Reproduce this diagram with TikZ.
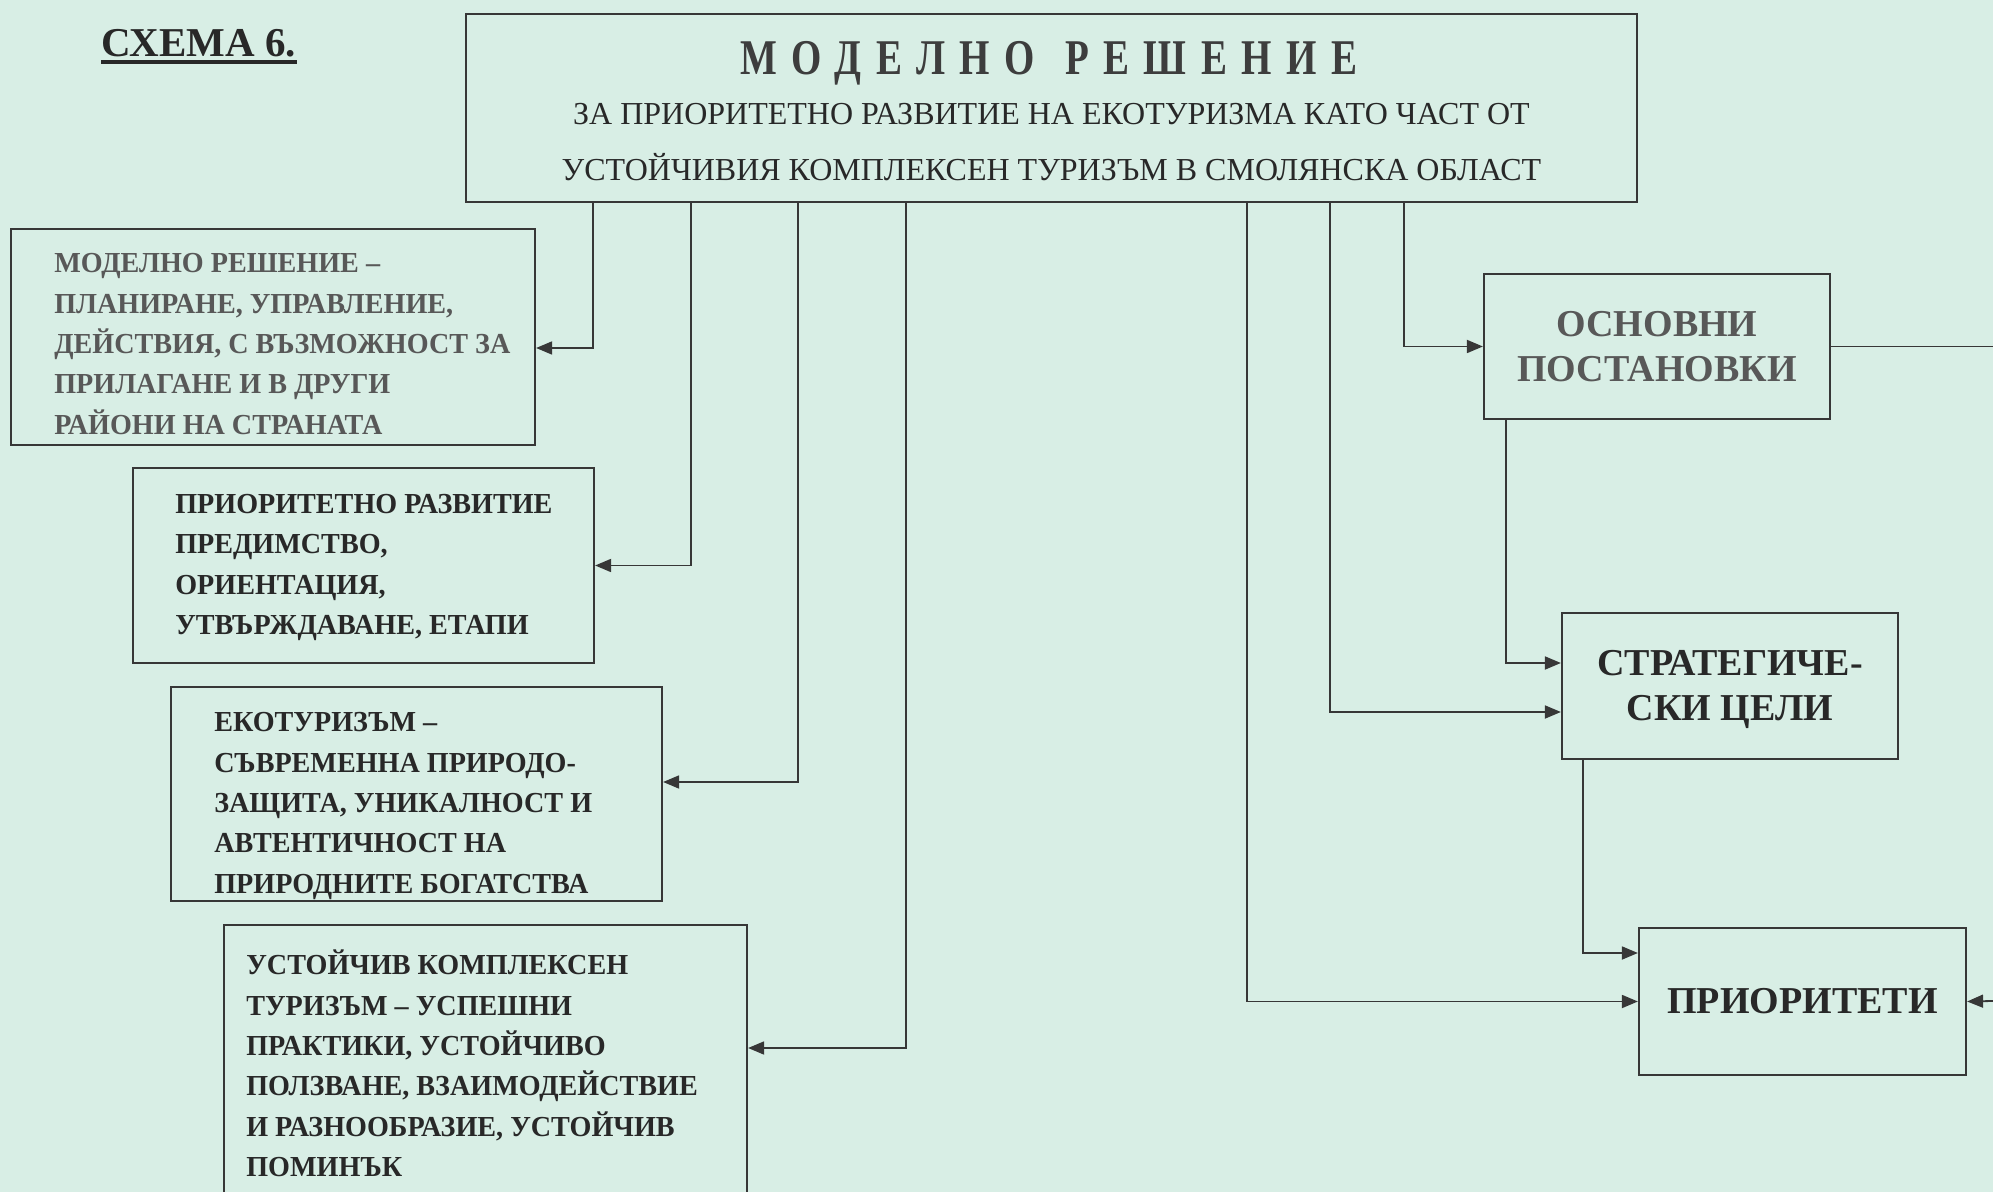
\documentclass[tikz,border=0pt]{standalone}
\usepackage{fontspec}
\setmainfont{Liberation Serif}
\newfontfamily\narrowfont[FakeStretch=0.97]{Liberation Serif}
\newfontfamily\titlefont[FakeStretch=0.78, LetterSpace=29]{Liberation Serif}
\usetikzlibrary{arrows.meta, positioning}
\definecolor{bgmint}{RGB}{216,238,229}
\definecolor{ink}{RGB}{40,40,40}
\definecolor{inkgray}{RGB}{88,88,88}
\definecolor{linegray}{RGB}{55,55,55}
\tikzset{%
	frame/.style={draw=linegray, line width=1.1pt, rectangle, inner sep=0pt},
	boxtext/.style={align=left, inner sep=0pt, text=ink,%
		font=\narrowfont\bfseries\fontsize{14.5}{20.2}\selectfont},
	bigbox/.style={frame, align=center, text=ink,%
		font=\bfseries\fontsize{19}{22.5}\selectfont},
	connector/.style={draw=linegray, line width=0.9pt},
	sel/.style={connector, -{Triangle[length=8pt, width=6.5pt]}}
}

\begin{document}
\begin{tikzpicture}[x=0.5pt, y=-0.5pt]
	\fill[bgmint] (0,0) rectangle (1993,1192);
	\useasboundingbox (0,0) rectangle (1993,1192);

	\node[anchor=base west, inner sep=0pt, text=ink, font=\bfseries\fontsize{20.5}{24}\selectfont] (schema) at (101,57) {СХЕМА 6.};
	\draw [ink, line width=2pt] ([yshift=-2.5pt]schema.base west) -- ([yshift=-2.5pt]schema.base east);

	% head box
	\node[frame, minimum width=585.5pt, minimum height=94pt] (main) at (1051.5,108) {};
	\node[anchor=base, text=ink!90, font=\titlefont\bfseries\fontsize{25}{28}\selectfont] (title) at (1049,75) {МОДЕЛНО\hspace{3pt} РЕШЕНИЕ};
	\node[anchor=base, text=ink, font=\fontsize{16}{18}\selectfont] (sub1) at (1051.5,125) {ЗА ПРИОРИТЕТНО РАЗВИТИЕ НА ЕКОТУРИЗМА КАТО ЧАСТ ОТ};
	\node[anchor=base, text=ink, font=\fontsize{16}{18}\selectfont] (sub2) at (1051.5,181) {УСТОЙЧИВИЯ КОМПЛЕКСЕН ТУРИЗЪМ В СМОЛЯНСКА ОБЛАСТ};

	% left column
	\node[frame, minimum width=262pt, minimum height=108pt] (boxA) at (273,337) {};
	\node[boxtext, text=inkgray, right=22pt of boxA.west, yshift=-3.5pt] (txtA) {МОДЕЛНО РЕШЕНИЕ –\\ПЛАНИРАНЕ, УПРАВЛЕНИЕ,\\ДЕЙСТВИЯ, С ВЪЗМОЖНОСТ ЗА\\ПРИЛАГАНЕ И В ДРУГИ\\РАЙОНИ НА СТРАНАТА};
	\node[frame, minimum width=230.5pt, minimum height=97.5pt] (boxB) at (363.5,565.5) {};
	\node[boxtext, right=21.5pt of boxB.west, yshift=-1pt] (txtB) {ПРИОРИТЕТНО РАЗВИТИЕ\\ПРЕДИМСТВО,\\ОРИЕНТАЦИЯ,\\УТВЪРЖДАВАНЕ, ЕТАПИ};
	\node[frame, minimum width=245.5pt, minimum height=107pt] (boxC) at (416.5,794) {};
	\node[boxtext, right=22pt of boxC.west, yshift=-6pt] (txtC) {ЕКОТУРИЗЪМ –\\СЪВРЕМЕННА ПРИРОДО-\\ЗАЩИТА, УНИКАЛНОСТ И\\АВТЕНТИЧНОСТ НА\\ПРИРОДНИТЕ БОГАТСТВА};
	\node[frame, minimum width=261.5pt, minimum height=147.5pt] (boxD) at (485.5,1072.5) {};
	\node[boxtext, right=11.5pt of boxD.west, yshift=4.5pt] (txtD) {УСТОЙЧИВ КОМПЛЕКСЕН\\ТУРИЗЪМ – УСПЕШНИ\\ПРАКТИКИ, УСТОЙЧИВО\\ПОЛЗВАНЕ, ВЗАИМОДЕЙСТВИЕ\\И РАЗНООБРАЗИЕ, УСТОЙЧИВ\\ПОМИНЪК};

	% right column
	\node[bigbox, text=inkgray, minimum width=173pt, minimum height=72.5pt] (boxE) at (1657,346.5) {ОСНОВНИ\\ПОСТАНОВКИ};
	\node[bigbox, minimum width=168pt, minimum height=73pt] (boxF) at (1730,686) {\rule{0pt}{16.5pt}СТРАТЕГИЧЕ-\\СКИ ЦЕЛИ};
	\node[bigbox, minimum width=163.5pt, minimum height=73.5pt] (boxG) at (1802.5,1001.5) {ПРИОРИТЕТИ};
	\coordinate (offE) at (1993,346.5);
	\coordinate (offG) at (1993,1001);

	\draw [sel] ([xshift=64pt]main.south west) |- ([yshift=-5.5pt]boxA.east);
	\draw [sel] ([xshift=113pt]main.south west) |- (boxB.east);
	\draw [sel] ([xshift=166.5pt]main.south west) |- ([yshift=6pt]boxC.east);
	\draw [sel] ([xshift=220.5pt]main.south west) |- ([yshift=12.25pt]boxD.east);
	\draw [sel] ([xshift=391pt]main.south west) |- (boxG.west);
	\draw [sel] ([xshift=432.5pt]main.south west) |- ([yshift=-13pt]boxF.west);
	\draw [sel] ([xshift=469.5pt]main.south west) |- (boxE.west);
	\draw [sel] ([xshift=11.5pt]boxE.south west) |- ([yshift=11.5pt]boxF.west);
	\draw [sel] ([xshift=11pt]boxF.south west) |- ([yshift=24.25pt]boxG.west);
	\draw [connector] (boxE.east) -- (offE);
	\draw [sel] (offG) -- (boxG.east);
\end{tikzpicture}
\end{document}
